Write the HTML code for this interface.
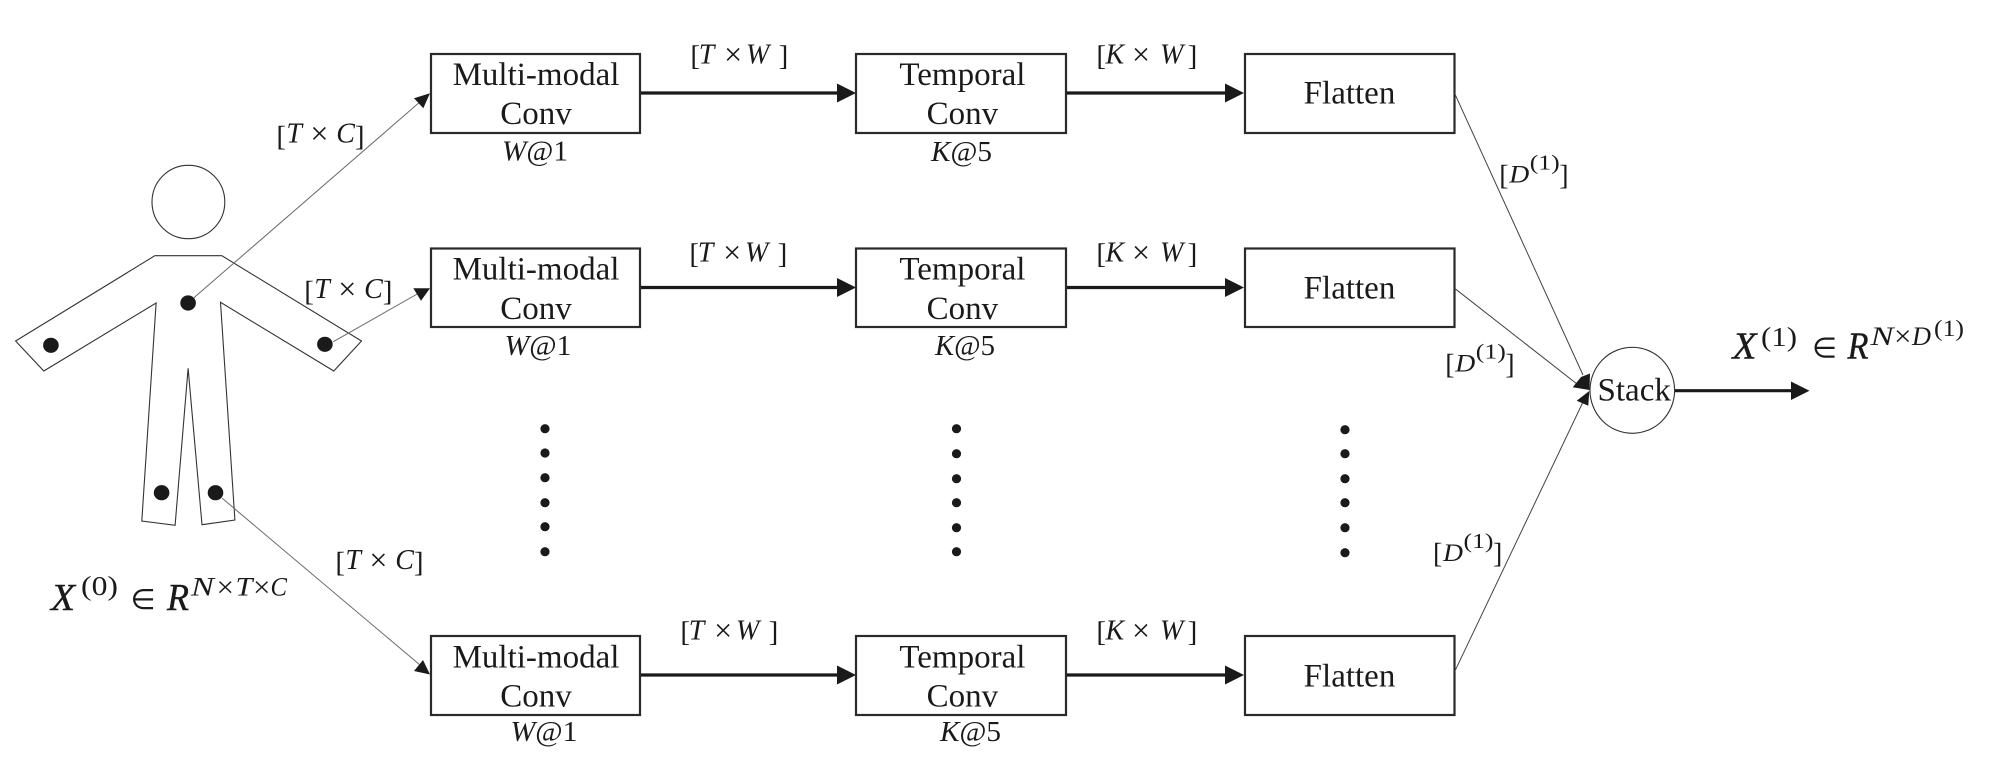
<!DOCTYPE html>
<html>
<head>
<meta charset="utf-8">
<style>
html,body{margin:0;padding:0;background:#fff;}
svg{display:block;}
text{font-family:"Liberation Serif",serif;fill:#1a1a1a;}
.n{font-size:33px;text-anchor:middle;}
.b{font-size:29px;}
.bd{font-size:28px;}
.v{font-size:28px;font-style:italic;}
.vd{font-size:25.5px;font-style:italic;}
.x{font-size:32px;}
.sup{font-size:21.5px;}
.i{font-style:italic;}
.lab{font-size:29px;}
.box{fill:#fff;stroke:#2a2a2a;stroke-width:2.2;}
.thick{stroke:#1a1a1a;stroke-width:3.2;fill:none;}
.thin{stroke:#444;stroke-width:1;fill:none;}
.faint{stroke:#6a6a6a;stroke-width:1;fill:none;}
.ol{fill:#fff;stroke:#333;stroke-width:1.1;}
.d{fill:#1a1a1a;}
.F{font-size:38px;font-style:italic;stroke:#1a1a1a;stroke-width:.4;}
.s{font-size:26.5px;font-style:italic;}
.e{font-size:28px;font-family:"DejaVu Sans",sans-serif;}
</style>
</head>
<body>
<svg width="1996" height="770" viewBox="0 0 1996 770" xmlns="http://www.w3.org/2000/svg">
<rect width="1996" height="770" fill="#fff"/>

<!-- person -->
<ellipse class="ol" cx="188.4" cy="202" rx="36.4" ry="36.7"/>
<polygon class="ol" points="154.9,255.7 221.8,255.7 361.5,341 333.8,371 220.5,302.3 234.9,520 202,524.7 188.1,368.3 175.1,525.3 141.8,521 156.1,303 43.8,371 15.6,341"/>
<ellipse class="d" cx="188.1" cy="303" rx="7.8" ry="7.6"/>
<ellipse class="d" cx="50.9" cy="345.3" rx="7.8" ry="7.6"/>
<ellipse class="d" cx="324.9" cy="344.3" rx="7.8" ry="7.6"/>
<ellipse class="d" cx="161.6" cy="492.7" rx="7.8" ry="7.6"/>
<ellipse class="d" cx="215.5" cy="492.7" rx="7.8" ry="7.6"/>

<!-- thin input arrows -->
<line class="faint" x1="193.6" y1="298" x2="421" y2="101"/>
<polygon class="d" points="430,93.3 414,98.3 423.3,108.3"/>
<line class="faint" x1="333.3" y1="341.7" x2="419" y2="293"/>
<polygon class="d" points="430,288.3 413.3,288.3 421,300.7"/>
<line class="faint" x1="222.2" y1="498.3" x2="420" y2="665"/>
<polygon class="d" points="430,674.5 414,671 423,660"/>

<!-- boxes -->
<rect class="box" x="431" y="54" width="209" height="79"/>
<rect class="box" x="431" y="248.5" width="209" height="78.5"/>
<rect class="box" x="431" y="636" width="209" height="79"/>
<rect class="box" x="856" y="54" width="210" height="79"/>
<rect class="box" x="856" y="248.5" width="210" height="78.5"/>
<rect class="box" x="856" y="636" width="210" height="79"/>
<rect class="box" x="1245" y="54" width="209.5" height="79"/>
<rect class="box" x="1245" y="248.5" width="209.5" height="78.5"/>
<rect class="box" x="1245" y="636" width="209.5" height="79"/>

<!-- thick arrows -->
<line class="thick" x1="641" y1="93" x2="840" y2="93"/><polygon class="d" points="856,93 837,83.5 837,102.5"/>
<line class="thick" x1="1067" y1="93" x2="1228" y2="93"/><polygon class="d" points="1244,93 1225,83.5 1225,102.5"/>
<line class="thick" x1="641" y1="287.5" x2="840" y2="287.5"/><polygon class="d" points="856,287.5 837,278 837,297"/>
<line class="thick" x1="1067" y1="287.5" x2="1228" y2="287.5"/><polygon class="d" points="1244,287.5 1225,278 1225,297"/>
<line class="thick" x1="641" y1="675" x2="840" y2="675"/><polygon class="d" points="856,675 837,665.5 837,684.5"/>
<line class="thick" x1="1067" y1="675" x2="1228" y2="675"/><polygon class="d" points="1244,675 1225,665.5 1225,684.5"/>

<!-- to stack -->
<line class="thin" x1="1454.6" y1="93.3" x2="1583" y2="375"/>
<line class="thin" x1="1454.6" y1="288.3" x2="1577" y2="384"/>
<line class="thin" x1="1454.6" y1="671.7" x2="1583" y2="402"/>
<polygon class="d" points="1590,373.5 1581,377 1572.7,387.3 1589.5,390"/>
<polygon class="d" points="1589.3,391 1576.7,400.7 1588.3,405.7"/>
<ellipse class="ol" cx="1632.3" cy="390.3" rx="42.3" ry="43"/>
<line class="thick" x1="1675" y1="390.7" x2="1793" y2="390.7"/>
<polygon class="d" points="1809.5,390.7 1791,381.5 1791,400"/>

<!-- box text -->
<text class="n" x="536" y="85">Multi-modal</text><text class="n" x="536" y="124">Conv</text>
<text class="n" x="536" y="279.5">Multi-modal</text><text class="n" x="536" y="319">Conv</text>
<text class="n" x="536" y="667.5">Multi-modal</text><text class="n" x="536" y="706.5">Conv</text>
<text class="n" x="962.4" y="85">Temporal</text><text class="n" x="962.4" y="124">Conv</text>
<text class="n" x="962.4" y="279.5">Temporal</text><text class="n" x="962.4" y="319">Conv</text>
<text class="n" x="962.4" y="667.5">Temporal</text><text class="n" x="962.4" y="706.5">Conv</text>
<text class="n" x="1349.5" y="103.5">Flatten</text>
<text class="n" x="1349.5" y="298.5">Flatten</text>
<text class="n" x="1349.5" y="686.5">Flatten</text>
<text class="n" x="1634.2" y="400.7">Stack</text>

<!-- sublabels -->
<text class="lab" x="502" y="160.7" textLength="66" lengthAdjust="spacingAndGlyphs"><tspan class="i">W</tspan>@1</text>
<text class="lab" x="504.5" y="355" textLength="67" lengthAdjust="spacingAndGlyphs"><tspan class="i">W</tspan>@1</text>
<text class="lab" x="510.5" y="741" textLength="67" lengthAdjust="spacingAndGlyphs"><tspan class="i">W</tspan>@1</text>
<text class="lab" x="931" y="161" textLength="61" lengthAdjust="spacingAndGlyphs"><tspan class="i">K</tspan>@5</text>
<text class="lab" x="935" y="355" textLength="60" lengthAdjust="spacingAndGlyphs"><tspan class="i">K</tspan>@5</text>
<text class="lab" x="940" y="741" textLength="61" lengthAdjust="spacingAndGlyphs"><tspan class="i">K</tspan>@5</text>

<!-- [T × C] -->
<g transform="translate(279,142.5)"><text class="b" x="-2.6" y="2.8">[</text><text class="v" x="7.4" y="0">T</text><text class="x" x="31.4" y="1.5">×</text><text class="v" x="57.2" y="0">C</text><text class="b" x="75.9" y="2.8">]</text></g>
<g transform="translate(306.9,297.8)"><text class="b" x="-2.6" y="2.8">[</text><text class="v" x="7.4" y="0">T</text><text class="x" x="31.4" y="1.5">×</text><text class="v" x="57.2" y="0">C</text><text class="b" x="75.9" y="2.8">]</text></g>
<g transform="translate(338,568.8)"><text class="b" x="-2.6" y="2.8">[</text><text class="v" x="7.4" y="0">T</text><text class="x" x="31.4" y="1.5">×</text><text class="v" x="57.2" y="0">C</text><text class="b" x="75.9" y="2.8">]</text></g>

<!-- [T × W] -->
<g transform="translate(693,63.3)"><text class="b" x="-2.6" y="1.5">[</text><text class="v" x="5.8" y="0">T</text><text class="x" x="31.1" y="1.5">×</text><text class="v" x="53" y="0" textLength="30" lengthAdjust="spacing">W</text><text class="b" x="85.6" y="1.5">]</text></g>
<g transform="translate(692,261.5)"><text class="b" x="-2.6" y="1.5">[</text><text class="v" x="5.8" y="0">T</text><text class="x" x="31.1" y="1.5">×</text><text class="v" x="53" y="0" textLength="30" lengthAdjust="spacing">W</text><text class="b" x="85.6" y="1.5">]</text></g>
<g transform="translate(683,639.5)"><text class="b" x="-2.6" y="1.5">[</text><text class="v" x="5.8" y="0">T</text><text class="x" x="31.1" y="1.5">×</text><text class="v" x="53" y="0" textLength="30" lengthAdjust="spacing">W</text><text class="b" x="85.6" y="1.5">]</text></g>

<!-- [K × W] -->
<g transform="translate(1099,63.3)"><text class="b" x="-2.6" y="1.5">[</text><text class="v" x="6.5" y="0">K</text><text class="x" x="33" y="1.5">×</text><text class="v" x="61" y="0">W</text><text class="b" x="88.6" y="1.5">]</text></g>
<g transform="translate(1099,261.5)"><text class="b" x="-2.6" y="1.5">[</text><text class="v" x="6.5" y="0">K</text><text class="x" x="33" y="1.5">×</text><text class="v" x="61" y="0">W</text><text class="b" x="88.6" y="1.5">]</text></g>
<g transform="translate(1099,639.5)"><text class="b" x="-2.6" y="1.5">[</text><text class="v" x="6.5" y="0">K</text><text class="x" x="33" y="1.5">×</text><text class="v" x="61" y="0">W</text><text class="b" x="88.6" y="1.5">]</text></g>

<!-- [D(1)] -->
<g transform="translate(1501.7,182.7)"><text class="bd" x="-2.5" y="1.6">[</text><text class="vd" x="7.5" y="0" textLength="20" lengthAdjust="spacingAndGlyphs">D</text><text class="sup" x="28" y="-13.2" textLength="30" lengthAdjust="spacingAndGlyphs">(1)</text><text class="bd" x="57.5" y="1.6">]</text></g>
<g transform="translate(1447.8,371.7)"><text class="bd" x="-2.5" y="1.6">[</text><text class="vd" x="7.5" y="0" textLength="20" lengthAdjust="spacingAndGlyphs">D</text><text class="sup" x="28" y="-13.2" textLength="30" lengthAdjust="spacingAndGlyphs">(1)</text><text class="bd" x="57.5" y="1.6">]</text></g>
<g transform="translate(1435.5,561)"><text class="bd" x="-2.5" y="1.6">[</text><text class="vd" x="7.5" y="0" textLength="20" lengthAdjust="spacingAndGlyphs">D</text><text class="sup" x="28" y="-13.2" textLength="30" lengthAdjust="spacingAndGlyphs">(1)</text><text class="bd" x="57.5" y="1.6">]</text></g>

<!-- formula left -->
<text class="F" x="51" y="610" textLength="24" lengthAdjust="spacingAndGlyphs">X</text>
<text x="81" y="595.2" font-size="27" textLength="37" lengthAdjust="spacingAndGlyphs">(0)</text>
<text class="e" x="130.5" y="609" textLength="25" lengthAdjust="spacingAndGlyphs">∈</text>
<text class="F" x="167" y="610" textLength="22" lengthAdjust="spacingAndGlyphs">R</text>
<text class="s" x="191" y="595.7" textLength="23" lengthAdjust="spacingAndGlyphs">N</text>
<text x="216.5" y="597" font-size="30" textLength="17.5" lengthAdjust="spacingAndGlyphs">×</text>
<text class="s" x="235.5" y="595.7" textLength="17" lengthAdjust="spacingAndGlyphs">T</text>
<text x="253" y="597" font-size="30" textLength="17.5" lengthAdjust="spacingAndGlyphs">×</text>
<text class="s" x="270.5" y="595.7" textLength="16.5" lengthAdjust="spacingAndGlyphs">C</text>

<!-- formula right -->
<text class="F" x="1732.5" y="358.3" textLength="24" lengthAdjust="spacingAndGlyphs">X</text>
<text x="1761" y="346" font-size="27" textLength="36" lengthAdjust="spacingAndGlyphs">(1)</text>
<text class="e" x="1812" y="357.3" textLength="25" lengthAdjust="spacingAndGlyphs">∈</text>
<text class="F" x="1847.5" y="358.3" textLength="21" lengthAdjust="spacingAndGlyphs">R</text>
<text class="s" x="1870.5" y="345" textLength="23" lengthAdjust="spacingAndGlyphs">N</text>
<text x="1894" y="346" font-size="30" textLength="17.5" lengthAdjust="spacingAndGlyphs">×</text>
<text class="s" x="1912" y="345" textLength="19" lengthAdjust="spacingAndGlyphs">D</text>
<text x="1934" y="336" font-size="23" textLength="30" lengthAdjust="spacingAndGlyphs">(1)</text>

<!-- dots -->
<g class="d">
<circle cx="545" cy="428.7" r="4.6"/><circle cx="545" cy="453" r="4.6"/><circle cx="545" cy="477.7" r="4.6"/><circle cx="545" cy="502.7" r="4.6"/><circle cx="545" cy="526.7" r="4.6"/><circle cx="545" cy="551.7" r="4.6"/>
<circle cx="956.5" cy="428.7" r="4.6"/><circle cx="956.5" cy="453.7" r="4.6"/><circle cx="956.5" cy="478.7" r="4.6"/><circle cx="956.5" cy="502.7" r="4.6"/><circle cx="956.5" cy="527.7" r="4.6"/><circle cx="956.5" cy="551.7" r="4.6"/>
<circle cx="1345" cy="429.7" r="4.6"/><circle cx="1345" cy="453.7" r="4.6"/><circle cx="1345" cy="478.7" r="4.6"/><circle cx="1345" cy="502.7" r="4.6"/><circle cx="1345" cy="527.7" r="4.6"/><circle cx="1345" cy="552.7" r="4.6"/>
</g>
</svg>
</body>
</html>
